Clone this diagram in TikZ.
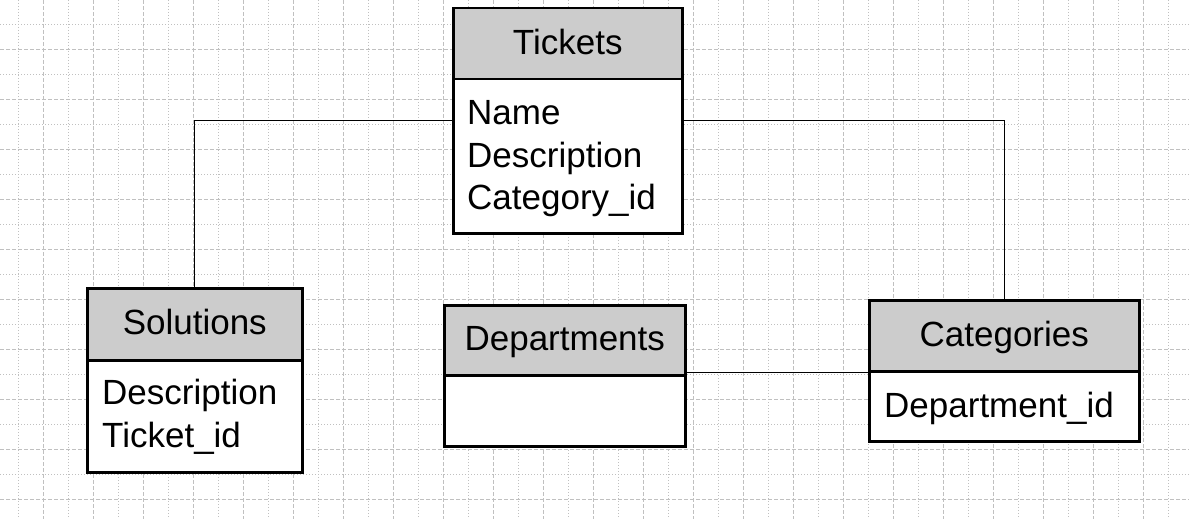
\documentclass[tikz,border=0pt]{standalone}
\usepackage{fontspec}
\setmainfont{Liberation Sans}
\definecolor{gridc}{RGB}{192,192,192}
\definecolor{headc}{RGB}{204,204,204}
\begin{document}
\begin{tikzpicture}[x=1pt,y=-1pt,
  minorgrid/.style={draw=gridc,line width=0.9pt,dash pattern=on 1pt off 2pt},
  majorgrid/.style={draw=gridc,line width=0.9pt,dash pattern=on 4pt off 2pt},
  tblhead/.style={draw=black,line width=2.5pt,fill=headc,rectangle,inner sep=0pt,
    font=\fontsize{35}{40}\selectfont,text height=25pt,text depth=4pt},
  tblbody/.style={draw=black,line width=2.5pt,fill=white,rectangle,inner sep=0pt},
  attr/.style={anchor=base west,inner sep=0pt,font=\fontsize{35}{40}\selectfont},
  link/.style={draw=black,line width=1pt}]
\useasboundingbox (0,0) rectangle (1189,519);
\fill[white] (0,0) rectangle (1189,519);
% grid
\foreach \x in {18,68,...,1168} \draw[minorgrid] (\x,0) -- (\x,519);
\foreach \x in {43,93,...,1143} \draw[majorgrid] (\x,0) -- (\x,519);
\foreach \y in {24,74,...,474} \draw[minorgrid] (0,\y) -- (1189,\y);
\foreach \y in {49,99,...,499} \draw[majorgrid] (0,\y) -- (1189,\y);

\coordinate (tl) at (452,120);
\coordinate (tr) at (681,120);
\coordinate (dl) at (684,372);
\coordinate (cl) at (868,372);

% Tickets
\node[tblhead,anchor=north west,minimum width=229pt,minimum height=71pt] (tkh) at (452,7) {Tickets};
\node[tblbody,anchor=north west,minimum width=229pt,minimum height=154pt] (tkb) at (452,78) {};
\node[attr] (tk1) at (467,124) {Name};
\node[attr] (tk2) at (467,167) {Description};
\node[attr] (tk3) at (467,209) {Category\_id};

% Solutions
\node[tblhead,anchor=north west,minimum width=215pt,minimum height=72pt] (soh) at (86,287) {Solutions};
\node[tblbody,anchor=north west,minimum width=215pt,minimum height=112pt] (sob) at (86,359) {};
\node[attr] (so1) at (102,404) {Description};
\node[attr] (so2) at (102,447) {Ticket\_id};

% Departments
\node[tblhead,anchor=north west,minimum width=241pt,minimum height=70pt] (deh) at (443,304) {Departments};
\node[tblbody,anchor=north west,minimum width=241pt,minimum height=71pt] (deb) at (443,374) {};

% Categories
\node[tblhead,anchor=north west,minimum width=270pt,minimum height=71pt] (cah) at (868,299) {Categories};
\node[tblbody,anchor=north west,minimum width=270pt,minimum height=70pt] (cab) at (868,370) {};
\node[attr] (ca1) at (884,417) {Department\_id};

% connectors
\draw[link] (tkb.west |- tl) -| (soh.north);
\draw[link] (tkb.east |- tr) -| (cah.north);
\draw[link] (deb.east |- dl) -- (cab.west |- cl);
\end{tikzpicture}
\end{document}
